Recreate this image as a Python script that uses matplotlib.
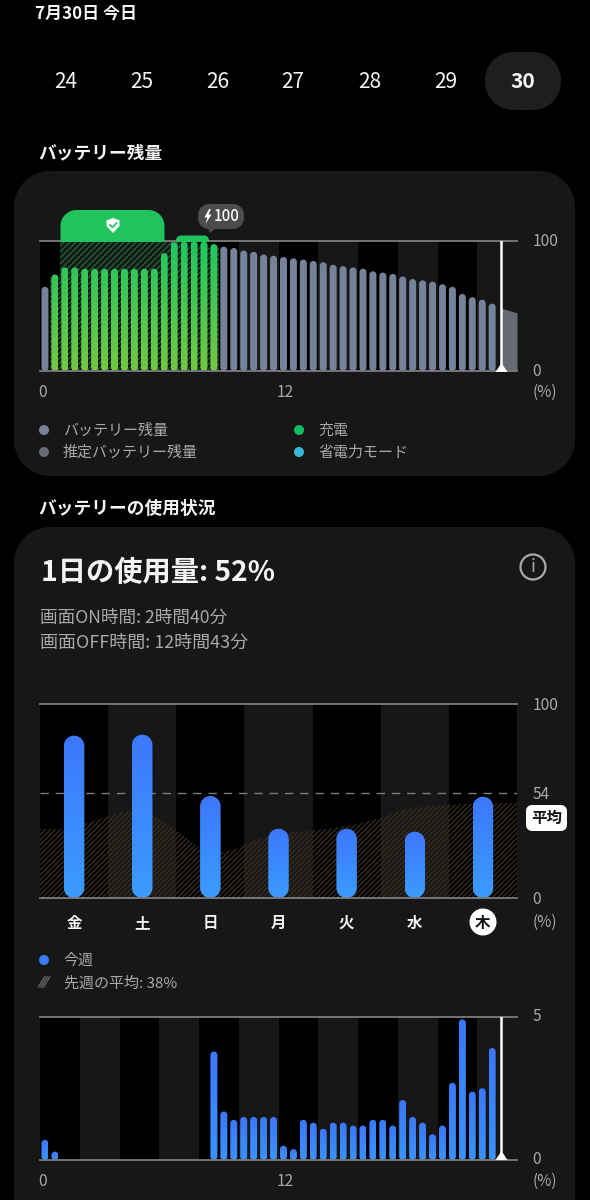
import numpy as np
import matplotlib
matplotlib.use('Agg')
import matplotlib.pyplot as plt
from matplotlib.collections import LineCollection
from matplotlib.patches import Rectangle, Circle, Polygon
from matplotlib.transforms import IdentityTransform, ScaledTranslation

plt.rcParams['font.family'] = ['Noto Sans CJK JP', 'DejaVu Sans']

# ---------- data ----------
dates = ['24', '25', '26', '27', '28', '29', '30']
battery_levels = [65, 74.5, 80, 80, 79, 79, 79, 79, 79, 79, 79, 79, 91, 99.5, 100, 100, 100, 98,
                  96, 95, 93, 92, 90, 89, 88, 87, 86, 85, 84, 82, 81, 80, 79, 77, 76, 75, 73,
                  71, 70, 69, 67, 65, 59.5, 57, 55, 52]
charging_slots = list(range(1, 18))
forecast_hours = [23.2, 24.0]
forecast_levels = [48.5, 45]
now_hour = 23.2
hour_ticks = [0, 12]
battery_yticks = [0, 100]

weekdays = ['金', '土', '日', '月', '火', '水', '木']
daily_usage = [83.7, 84.2, 52.6, 35.7, 35.7, 34.2, 52.2]
daily_avg = 54
usage_yticks = [0, 54, 100]
lastweek_x = [0, .39, .73, 1.02, 1.32, 1.66, 2.0, 2.35, 2.6, 2.88, 3.17, 3.52, 3.9, 4.24,
              4.63, 4.97, 5.34, 5.73, 6.22, 7]
lastweek_y = [35.5, 35.5, 39, 42.5, 45, 42.5, 35, 25.5, 23, 25.5, 30, 33.5, 34.5, 35.7,
              38, 41, 45.5, 47.5, 48.5, 49]

hourly_usage = [0.7, 0.29, 0, 0, 0, 0, 0, 0, 0, 0, 0, 0, 0, 0, 0, 0, 0, 3.78, 1.69, 1.4, 1.5, 1.5,
                1.5, 1.5, 0.5, 0.38, 1.4, 1.3, 1.09, 1.3, 1.3, 1.2, 1.2, 1.4, 1.4, 1.2, 2.09,
                1.5, 1.3, 0.9, 1.2, 2.69, 4.9, 2.38, 2.5, 3.9]
hourly_yticks = [0, 5]

# ---------- style ----------
BG = '#000000'
CARD = '#171717'
LINE = '#7c7c7c'
GRAY = '#a9a9a9'
WHITE = '#f4f4f4'
SLATE = '#76829a'
GREEN = '#21c45c'
W, H = 590, 1200
NOW_MARK = [(-1, -0.75), (1, -0.75), (0, 0.75)]


def pt(px):
    return px * 0.72


fig = plt.figure(figsize=(W / 100, H / 100), dpi=100, facecolor=BG)


def overlay(z):
    a = fig.add_axes([0, 0, 1, 1], zorder=z)
    a.set_xlim(0, W)
    a.set_ylim(H, 0)
    a.axis('off')
    a.patch.set_alpha(0)
    return a


bg = overlay(0)
fg = overlay(5)


def rbox(a, x0, y0, x1, y1, r, color, z=1):
    pts = []
    for cx, cy, start in [(x1 - r, y0 + r, -90), (x1 - r, y1 - r, 0), (x0 + r, y1 - r, 90), (x0 + r, y0 + r, 180)]:
        th = np.radians(np.linspace(start, start + 90, 16))
        pts.append(np.c_[cx + r * np.cos(th), cy + r * np.sin(th)])
    p = Polygon(np.vstack(pts), closed=True, fc=color, ec='none', zorder=z)
    a.add_patch(p)
    return p


def label(x, y, s, size, color=GRAY, weight='normal', ha='left', a=fg):
    a.text(x, y + 1, s, fontsize=pt(size), color=color, fontweight=weight, ha=ha, va='center')


# cards
rbox(bg, 14, 171, 575, 476, 36, CARD)
rbox(bg, 14, 527, 575, 1290, 36, CARD)

# header
label(35, 13, '7月30日 今日', 17, WHITE, 'bold')
rbox(bg, 485, 52, 561, 110, 28, '#1e1e1e')
for x, s in zip([66, 142, 218, 293, 370, 446, 523], dates):
    last = s == dates[-1]
    label(x, 81, s, 21, WHITE, 'bold' if last else 'normal', 'center')
label(38.5, 152, 'バッテリー残量', 17.7, WHITE, 'bold')
label(38.5, 508, 'バッテリーの使用状況', 17.7, WHITE, 'bold')

# legends top card
for (x, y, c, s) in [(44, 430, SLATE, 'バッテリー残量'), (44, 452, '#686b73', '推定バッテリー残量'),
                     (299, 430, '#10c060', '充電'), (299, 452, '#36b9d8', '省電力モード')]:
    fg.add_patch(Circle((x, y), 5, fc=c, ec='none'))
    label(x + 19, y, s, 15, GRAY)

# usage header
label(41, 572, '1日の使用量: 52%', 28.3, WHITE, 'bold')
label(40, 617, '画面ON時間: 2時間40分', 17.6, GRAY)
label(40, 642, '画面OFF時間: 12時間43分', 18, GRAY)
fg.add_patch(Circle((533, 567), 12.5, fc='none', ec=GRAY, lw=1.6))
label(533, 566, 'i', 18, GRAY, 'normal', 'center')

# weekly legend
fg.add_patch(Circle((44, 960), 5, fc='#3b7bff', ec='none'))
label(64, 960, '今週', 15, GRAY)
label(64, 982, '先週の平均: 38%', 15, GRAY)
for dx in (-2.5, 0, 2.5):
    fg.plot([41 + dx, 47 + dx], [987, 977], color='#5c5c5c', lw=1.2)

# today marker and average badge
bg.add_patch(Circle((483, 922), 13.5, fc='#ffffff', ec='none', zorder=2))
rbox(bg, 526, 805, 567, 831, 6, '#ffffff', 2)
label(546.5, 817, '平均', 15.5, '#111111', 'bold', 'center', a=fg)


def chart(px0, py0, px1, py1, xmax, ymax):
    ax = fig.add_axes([px0 / W, 1 - py1 / H, (px1 - px0) / W, (py1 - py0) / H], zorder=3)
    ax.patch.set_alpha(0)
    ax.set_xlim(0, xmax)
    ax.set_ylim(0, ymax)
    ax.set_autoscale_on(False)
    for s in ('left', 'right'):
        ax.spines[s].set_visible(False)
    for s in ('top', 'bottom'):
        ax.spines[s].set_color(LINE)
        ax.spines[s].set_linewidth(1.3)
        ax.spines[s].set_zorder(6)
    ax.yaxis.tick_right()
    ax.tick_params(length=0, labelcolor=GRAY, labelsize=pt(15.5))
    ax.tick_params(axis='y', pad=11)
    return ax


def shift_ticks(labels, dx_px, dy_px):
    for lab in labels:
        lab.set_transform(lab.get_transform() + ScaledTranslation(dx_px / 100, dy_px / 100, fig.dpi_scale_trans))


def bands(ax, edges):
    for i in range(0, len(edges) - 1, 2):
        ax.axvspan(edges[i], edges[i + 1], color='#000000', lw=0, zorder=0)


def stripes(ax, verts, color, spacing, lw, fill=None, z=1):
    """Diagonal stripes at a whole pixel spacing, clipped to a region given in data units."""
    shape = Polygon(verts, closed=True, fc=fill if fill else 'none', ec='none', zorder=z)
    ax.add_patch(shape)
    starts = np.arange(-H, W + H, spacing)
    segs = [[(s, 0), (s + H, H)] for s in starts]
    lc = LineCollection(segs, colors=color, linewidths=lw, transform=IdentityTransform(), zorder=z)
    ax.add_collection(lc, autolim=False)
    lc.set_clip_path(shape)


def aspect(ax):
    bb = ax.get_window_extent()
    x0, x1 = ax.get_xlim()
    y0, y1 = ax.get_ylim()
    return ((y1 - y0) / bb.height) / ((x1 - x0) / bb.width)


def capsule(ax, xc, val, w):
    r = w / 2
    ry = min(r * aspect(ax), val / 2)
    th = np.linspace(0, np.pi, 24)
    top = np.c_[xc + r * np.cos(th), val - ry + ry * np.sin(th)]
    bot = np.c_[xc - r * np.cos(th), ry - ry * np.sin(th)]
    return np.vstack([top, bot])


def bar(ax, xc, val, w, colors=None, solid=None, span=None, z=3):
    p = Polygon(capsule(ax, xc, val, w), closed=True, fc=solid if solid else 'none', ec='none', zorder=z)
    ax.add_patch(p)
    if colors is not None:
        top = span if span else val
        c0 = np.array(matplotlib.colors.to_rgb(colors[0]))
        c1 = np.array(matplotlib.colors.to_rgb(colors[1]))
        t = np.linspace(0, 1, 64)[:, None, None]
        img = (1 - t) * c0[None, None, :] + t * c1[None, None, :]
        im = ax.imshow(img, extent=(xc - w / 2, xc + w / 2, 0, top), aspect='auto', zorder=z,
                       interpolation='bilinear')
        im.set_clip_path(p)


# ---------- battery chart ----------
ax1 = chart(40, 241.5, 517, 371, 24, 100)
bands(ax1, list(range(0, 24, 2)))
slots = (np.arange(len(battery_levels)) + 0.5) / 2
bw = 7 / 19.875
# stripes between the charging bars
for i in charging_slots:
    x0, x1, top = slots[i] - 0.25, slots[i] + 0.25, battery_levels[i] * 0.97
    stripes(ax1, [(x0, 0), (x1, 0), (x1, top), (x0, top)], '#050505', 5, 1.1, fill='#1f4a2e')
# protected window above the bars
stripes(ax1, [(1.0, 70), (7.25, 70), (7.25, 100), (1.0, 100)], '#2a5c3b', 6, 1.0, fill='#0e1a12')
for i, (x, v) in enumerate(zip(slots, battery_levels)):
    if i in charging_slots:
        bar(ax1, x, v, bw, colors=('#1fc661', '#74c843'), span=100)
    else:
        bar(ax1, x, v, bw, solid=SLATE)
ax1.fill_between(forecast_hours, forecast_levels, 0, color='#666a72', lw=0, zorder=2)
ax1.plot([now_hour, now_hour], [0, 100], color='#ffffff', lw=1.8, zorder=7)
ax1.plot([now_hour], [3.46], marker=NOW_MARK, ms=8.6, color='#ffffff', mec='none', clip_on=False, zorder=8)
ax1.set_xticks(hour_ticks)
ax1.set_xticklabels([str(v) for v in hour_ticks], ha='left')
ax1.tick_params(axis='x', pad=9.5)
ax1.set_yticks(battery_yticks)
ax1.set_yticklabels([str(v) for v in battery_yticks])
shift_ticks(ax1.get_yticklabels(), 0, 1.5)
shift_ticks(ax1.get_xticklabels(), -1.5, 0)
label(533, 391, '(%)', 15.5, GRAY)

# green tabs and callout
clip = Rectangle((0, 0), W, 241.5, transform=fg.transData)
t1 = rbox(fg, 60.5, 210, 164.5, 270, 16, GREEN, 4)
t1.set_clip_path(clip)
t2 = rbox(fg, 176, 235.5, 209, 260, 5, GREEN, 4)
t2.set_clip_path(clip)
fg.add_patch(Polygon([(113, 218), (119.5, 220.5), (119.5, 226), (113, 233), (106.5, 226), (106.5, 220.5)],
                     fc='#ffffff', ec='none', zorder=5))
fg.plot([110, 112.5, 116.5], [225, 227.5, 223], color=GREEN, lw=1.2, zorder=6)
rbox(fg, 198, 204, 244, 229, 11, '#4c4c4c', 4)
fg.add_patch(Polygon([(208, 228), (216, 228), (210, 233)], fc='#4c4c4c', ec='none', zorder=4))
fg.add_patch(Polygon([(209, 209), (204.5, 217.5), (207.5, 217.5), (205.5, 224), (211.5, 214.5),
                      (208.5, 214.5), (211, 209)], fc='#ffffff', ec='none', zorder=5))
fg.text(214, 216.5, '100', fontsize=pt(15), color='#ffffff', fontweight='medium', ha='left', va='center', zorder=5)

# ---------- weekly chart ----------
ax2 = chart(40, 704, 517, 898, 7, 100)
bands(ax2, [0, 1, 2, 3, 4, 5, 6, 7])
stripes(ax2, list(zip(lastweek_x, lastweek_y)) + [(7, 0), (0, 0)], '#3a301d', 5, 0.9)
ax2.plot([0, 7], [daily_avg, daily_avg], color=LINE, lw=1, dashes=(6, 5), zorder=2)
days = np.arange(len(weekdays)) + 0.5
for x, v in zip(days, daily_usage):
    bar(ax2, x, v, 20.5 / 68.14, colors=('#3d78fb', '#3b9bff'))
ax2.set_xticks(days)
ax2.set_xticklabels(weekdays, fontweight='bold', fontsize=pt(15.5))
ax2.tick_params(axis='x', pad=12, labelcolor=WHITE)
ax2.get_xticklabels()[-1].set_color('#111111')
ax2.set_yticks(usage_yticks)
ax2.set_yticklabels([str(v) for v in usage_yticks])
shift_ticks(ax2.get_yticklabels(), 0, 1)
label(533, 921, '(%)', 15.5, GRAY)

# ---------- hourly usage chart ----------
ax3 = chart(40, 1016.5, 517, 1160, 24, 5)
bands(ax3, list(range(0, 24, 2)))
hslots = (np.arange(len(hourly_usage)) + 0.5) / 2
for x, v in zip(hslots, hourly_usage):
    if v > 0:
        bar(ax3, x, v, bw, colors=('#3a78fb', '#3a92ff'))
ax3.plot([now_hour, now_hour], [0, 5], color='#ffffff', lw=1.8, zorder=7)
ax3.plot([now_hour], [0.157], marker=NOW_MARK, ms=8.6, color='#ffffff', mec='none', clip_on=False, zorder=8)
ax3.set_xticks(hour_ticks)
ax3.set_xticklabels([str(v) for v in hour_ticks], ha='left')
ax3.tick_params(axis='x', pad=9.5)
ax3.set_yticks(hourly_yticks)
ax3.set_yticklabels([str(v) for v in hourly_yticks])
shift_ticks(ax3.get_yticklabels(), 0, 2)
shift_ticks(ax3.get_xticklabels(), -1.5, 0)
label(533, 1180, '(%)', 15.5, GRAY)

fig.savefig('out.png', dpi=100, facecolor=BG)
